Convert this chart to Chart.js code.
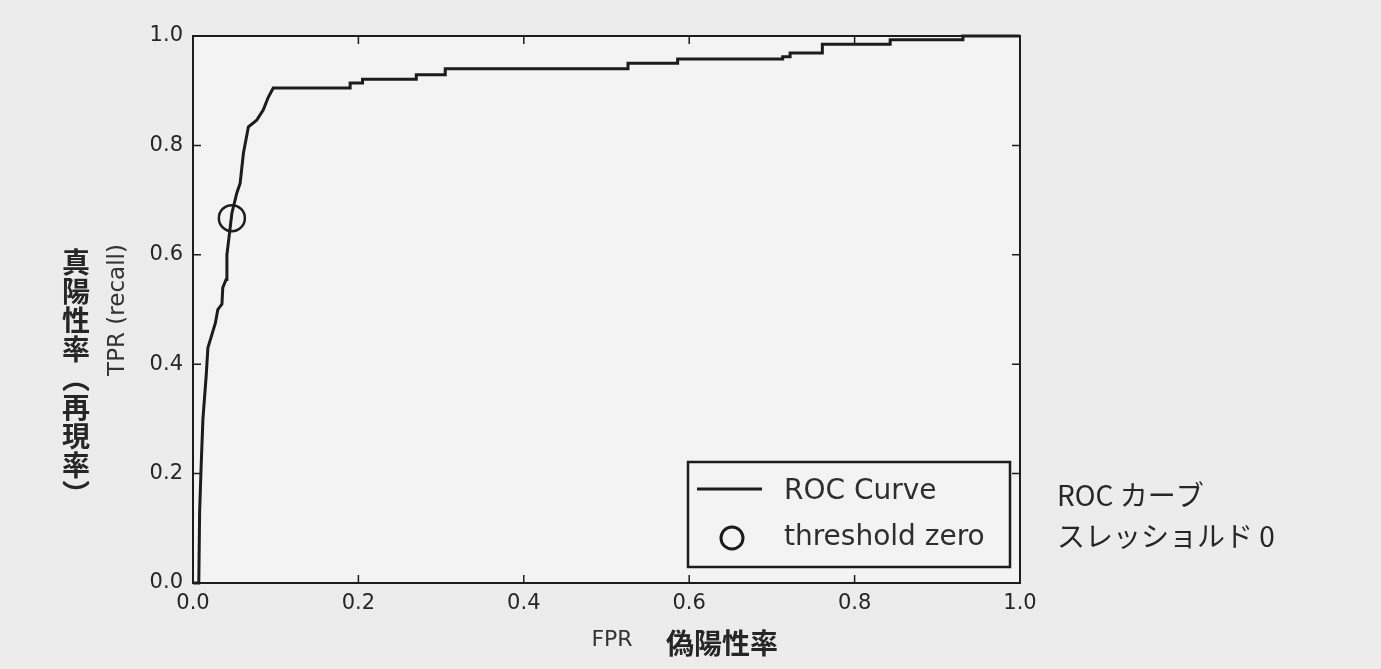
<!DOCTYPE html>
<html>
<head>
<meta charset="utf-8">
<script src="https://cdn.jsdelivr.net/npm/chart.js@4"></script>
<style>
  html, body { margin: 0; padding: 0; background: #ececec; }
  #wrap { width: 1381px; height: 669px; position: relative; }
  #yTitleJa {
    position: absolute;
    left: 62px;
    top: 248px;
    writing-mode: vertical-rl;
    font: bold 28px "Noto Sans CJK JP";
    line-height: 28px;
    letter-spacing: 1px;
    color: #262626;
  }
</style>
</head>
<body>
<div id="wrap"><canvas id="rocCanvas"></canvas><div id="yTitleJa"></div></div>
<script>
// ROC 曲線 (FPR, TPR)
const rocFpr = [0, 0.007, 0.008, 0.010, 0.012, 0.016, 0.018, 0.022, 0.027, 0.030, 0.035, 0.036, 0.040, 0.041, 0.047, 0.053, 0.057, 0.061, 0.067, 0.077, 0.085, 0.091, 0.097,
  0.190, 0.190, 0.205, 0.205, 0.270, 0.270, 0.305, 0.305, 0.526, 0.526, 0.586, 0.586, 0.713, 0.713, 0.722, 0.722, 0.761, 0.761, 0.843, 0.843, 0.931, 0.931, 0.970, 1.0];
const rocTpr = [0, 0.0, 0.13, 0.22, 0.30, 0.38, 0.43, 0.45, 0.475, 0.50, 0.51, 0.54, 0.555, 0.60, 0.676, 0.713, 0.731, 0.786, 0.834, 0.846, 0.865, 0.888, 0.905,
  0.905, 0.914, 0.914, 0.921, 0.921, 0.929, 0.929, 0.940, 0.940, 0.950, 0.950, 0.958, 0.958, 0.962, 0.962, 0.969, 0.969, 0.985, 0.985, 0.993, 0.993, 1.0, 1.0, 1.0];

// しきい値 0 の点
const thresholdFpr = [0.047];
const thresholdTpr = [0.667];

const xTickValues = [0, 0.2, 0.4, 0.6, 0.8, 1.0];
const yTickValues = [0, 0.2, 0.4, 0.6, 0.8, 1.0];

const legendLabels = ["ROC Curve", "threshold zero"];
const legendNotes = ["ROC カーブ", "スレッショルド 0"];
const yTitle = "TPR (recall)";
const yTitleJa = "真陽性率（再現率）";
const xTitle = "FPR";
const xTitleJa = "偽陽性率";

// 縦書きラベルは HTML で (括弧の縦書き対応のため)
document.getElementById("yTitleJa").textContent = yTitleJa;

const canvas = document.getElementById("rocCanvas");
const INK = "#1c1c1c";
const TEXT = "#262626";

const decoPlugin = {
  id: "deco",
  beforeDraw(chart) {
    const { ctx, chartArea: a } = chart;
    ctx.save();
    ctx.fillStyle = "#ececec";
    ctx.fillRect(0, 0, chart.width, chart.height);
    ctx.fillStyle = "#f3f3f3";
    ctx.fillRect(a.left, a.top, a.right - a.left, a.bottom - a.top);
    ctx.restore();
  },
  afterDraw(chart) {
    const { ctx, chartArea: a, scales } = chart;
    ctx.save();

    // 枠線
    ctx.strokeStyle = INK;
    ctx.lineWidth = 2;
    ctx.strokeRect(a.left, a.top, a.right - a.left, a.bottom - a.top);

    // 内向きの目盛り (四辺)
    ctx.lineWidth = 1.5;
    const tl = 8;
    xTickValues.forEach((v) => {
      const x = scales.x.getPixelForValue(v);
      ctx.beginPath();
      ctx.moveTo(x, a.bottom); ctx.lineTo(x, a.bottom - tl);
      ctx.moveTo(x, a.top); ctx.lineTo(x, a.top + tl);
      ctx.stroke();
    });
    yTickValues.forEach((v) => {
      const y = scales.y.getPixelForValue(v);
      ctx.beginPath();
      ctx.moveTo(a.left, y); ctx.lineTo(a.left + tl, y);
      ctx.moveTo(a.right, y); ctx.lineTo(a.right - tl, y);
      ctx.stroke();
    });

    // 凡例
    const bx = 688, by = 462, bw = 322, bh = 105;
    ctx.fillStyle = "#f3f3f3";
    ctx.fillRect(bx, by, bw, bh);
    ctx.strokeStyle = INK;
    ctx.lineWidth = 2.5;
    ctx.strokeRect(bx, by, bw, bh);

    ctx.lineWidth = 3;
    ctx.beginPath();
    ctx.moveTo(697, 489); ctx.lineTo(762, 489);
    ctx.stroke();
    ctx.beginPath();
    ctx.arc(732, 538, 11, 0, Math.PI * 2);
    ctx.stroke();

    ctx.fillStyle = "#2e2e2e";
    ctx.font = "28px 'DejaVu Sans'";
    ctx.textAlign = "left";
    ctx.textBaseline = "middle";
    ctx.fillText(legendLabels[0], 784, 492);
    ctx.fillText(legendLabels[1], 784, 538);

    // 右側の日本語注記
    ctx.font = "28px 'Noto Sans CJK JP'";
    ctx.fillStyle = "#262626";
    ctx.fillText(legendNotes[0], 1057, 495);
    ctx.fillText(legendNotes[1], 1057, 536);

    // 軸タイトル
    ctx.fillStyle = "#333333";
    ctx.font = "22px 'DejaVu Sans'";
    ctx.textAlign = "center";
    ctx.fillText(xTitle, 612, 640);
    ctx.fillStyle = "#262626";
    ctx.font = "bold 28px 'Noto Sans CJK JP'";
    ctx.fillText(xTitleJa, 722, 643);

    ctx.save();
    ctx.translate(118, 310);
    ctx.rotate(-Math.PI / 2);
    ctx.fillStyle = "#333333";
    ctx.font = "23px 'DejaVu Sans'";
    ctx.fillText(yTitle, 0, 0);
    ctx.restore();

    ctx.restore();
  },
};

new Chart(canvas, {
  type: "scatter",
  data: {
    datasets: [
      {
        label: legendLabels[0],
        data: rocFpr.map((x, i) => ({ x, y: rocTpr[i] })),
        showLine: true,
        borderColor: INK,
        borderWidth: 3,
        pointRadius: 0,
        tension: 0,
        clip: false,
      },
      {
        label: legendLabels[1],
        data: thresholdFpr.map((x, i) => ({ x, y: thresholdTpr[i] })),
        showLine: false,
        pointStyle: "circle",
        pointRadius: 13,
        borderColor: INK,
        borderWidth: 2.5,
        backgroundColor: "rgba(0,0,0,0)",
      },
    ],
  },
  options: {
    responsive: true,
    maintainAspectRatio: false,
    animation: false,
    events: [],
    layout: { padding: { top: 36, right: 361, left: 0, bottom: 0 } },
    plugins: {
      legend: { display: false },
      tooltip: { enabled: false },
    },
    scales: {
      x: {
        type: "linear",
        min: 0,
        max: 1,
        afterBuildTicks: (s) => { s.ticks = xTickValues.map((v) => ({ value: v })); },
        afterFit: (s) => { s.height = 86; },
        ticks: {
          callback: (v) => v.toFixed(1),
          font: { family: "DejaVu Sans", size: 21 },
          color: TEXT,
          padding: 8,
          maxRotation: 0,
        },
        grid: { display: false, drawTicks: false },
        border: { display: false },
      },
      y: {
        type: "linear",
        min: 0,
        max: 1,
        afterBuildTicks: (s) => { s.ticks = yTickValues.map((v) => ({ value: v })); },
        afterFit: (s) => { s.width = 193; },
        ticks: {
          callback: (v) => v.toFixed(1),
          font: { family: "DejaVu Sans", size: 21 },
          color: TEXT,
          padding: 10,
        },
        grid: { display: false, drawTicks: false },
        border: { display: false },
      },
    },
  },
  plugins: [decoPlugin],
});
</script>
</body>
</html>
